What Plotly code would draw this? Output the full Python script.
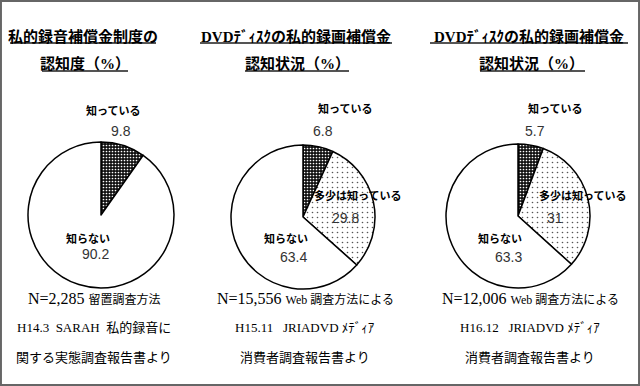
import plotly.graph_objects as go

W, H = 640, 386

# ---- data ----
labels1 = ["知っている", "知らない"]
values1 = [9.8, 90.2]
labels2 = ["知っている", "多少は知っている", "知らない"]
values2 = [6.8, 29.8, 63.4]
labels3 = ["知っている", "多少は知っている", "知らない"]
values3 = [5.7, 31, 63.3]

titles = [["私的録音補償金制度の", "認知度（%）"],
          ["DVDﾃﾞｨｽｸの私的録画補償金", "認知状況（%）"],
          ["DVDﾃﾞｨｽｸの私的録画補償金", "認知状況（%）"]]
notes = [["N=2,285 <span style='font-size:12px'>留置調査方法</span>",
          "H14.3  SARAH  私的録音に", "関する実態調査報告書より"],
         ["N=15,556 <span style='font-size:12px'>Web 調査方法による</span>",
          "H15.11   JRIADVD ﾒﾃﾞｨｱ", "消費者調査報告書より"],
         ["N=12,006 <span style='font-size:12px'>Web 調査方法による</span>",
          "H16.12   JRIADVD ﾒﾃﾞｨｱ", "消費者調査報告書より"]]

SERIF = "Liberation Serif, Noto Sans CJK JP"
SANS_JP = "Noto Sans CJK JP"
NUM = "Liberation Sans, Arial"

def px(x):
    return x / W

def py(y):
    return 1 - y / H

dark = dict(color="#111111", pattern=dict(shape=".", fgcolor="#ffffff", bgcolor="#111111", size=3, solidity=0.25))
dots = dict(color="white", pattern=dict(shape=".", fgcolor="#555555", bgcolor="white", size=5, solidity=0.08))
white = dict(color="white")

fig = go.Figure()

pies = [
    (labels1, values1, (101, 215, 73), [dark, white]),
    (labels2, values2, (303, 217, 72), [dark, dots, white]),
    (labels3, values3, (518, 216, 72), [dark, dots, white]),
]
for lab, val, (cx, cy, r), pats in pies:
    colors = [p["color"] for p in pats]
    fig.add_trace(go.Pie(
        labels=lab, values=val, sort=False, direction="clockwise", rotation=0,
        textinfo="none", hoverinfo="label+value", showlegend=False,
        domain=dict(x=[px(cx - r), px(cx + r)], y=[py(cy + r), py(cy - r)]),
        marker=dict(colors=colors,
                    pattern=dict(shape=[p.get("pattern", {}).get("shape", "") for p in pats],
                                 fgcolor=[p.get("pattern", {}).get("fgcolor", "black") for p in pats],
                                 bgcolor=[p.get("pattern", {}).get("bgcolor", "white") for p in pats],
                                 size=[p.get("pattern", {}).get("size", 6) for p in pats],
                                 solidity=[p.get("pattern", {}).get("solidity", 0.3) for p in pats]),
                    line=dict(color="black", width=1.5)),
    ))

ann = []
def add(text, x, y, size, family, color="black", bold=False):
    ann.append(dict(text=("<b>%s</b>" % text) if bold else text, x=px(x), y=py(y),
                    xref="paper", yref="paper", showarrow=False,
                    xanchor="center", yanchor="middle",
                    font=dict(size=size, family=family, color=color)))

# titles
title_pos = [(83, 85), (296, 297), (529, 531)]
for (t1, t2), (x1, x2) in zip(titles, title_pos):
    add(t1, x1, 36, 15, SERIF, bold=True)
    add(t2, x2, 63, 15, SERIF, bold=True)

underlines = [((10, 156), (42, 128)), ((200, 392), (245, 349)), ((430, 628), (480, 585))]
shapes = []
for (a, b) in underlines:
    shapes.append(dict(type="line", xref="paper", yref="paper", x0=px(a[0]), x1=px(a[1]),
                       y0=py(43), y1=py(43), line=dict(color="#555555", width=2)))
    shapes.append(dict(type="line", xref="paper", yref="paper", x0=px(b[0]), x1=px(b[1]),
                       y0=py(71), y1=py(71), line=dict(color="#555555", width=2)))

# slice labels
pie_labels = [
    [(labels1[0], 113, 110, values1[0], 121, 131), (labels1[1], 88, 238, values1[1], 95, 254)],
    [(labels2[0], 345, 108, values2[0], 323, 131), (labels2[1], 357, 195, values2[1], 345, 218),
     (labels2[2], 286, 238, values2[2], 293, 257)],
    [(labels3[0], 555, 108, values3[0], 535, 131), (labels3[1], 582, 195, values3[1], 555, 218),
     (labels3[2], 500, 238, values3[2], 508, 257)],
]
for group in pie_labels:
    for name, lx, ly, v, vx, vy in group:
        add(name, lx, ly, 11, SANS_JP, bold=True)
        add("%g" % v, vx, vy, 14, NUM, color="#333333")

# notes
note_x = [94, 305, 530]
for lines, x in zip(notes, note_x):
    add(lines[0], x, 298, 16, SERIF)
    add(lines[1], x, 327, 13, SERIF)
    add(lines[2], x, 357, 13, SERIF)

shapes.append(dict(type="rect", xref="paper", yref="paper", x0=0.0015, x1=0.9985, y0=0.0025, y1=0.9975,
                   line=dict(color="#666666", width=2)))

fig.update_layout(width=W, height=H, margin=dict(l=0, r=0, t=0, b=0),
                  paper_bgcolor="white", plot_bgcolor="white",
                  annotations=ann, shapes=shapes)
fig.write_html("out.html")
